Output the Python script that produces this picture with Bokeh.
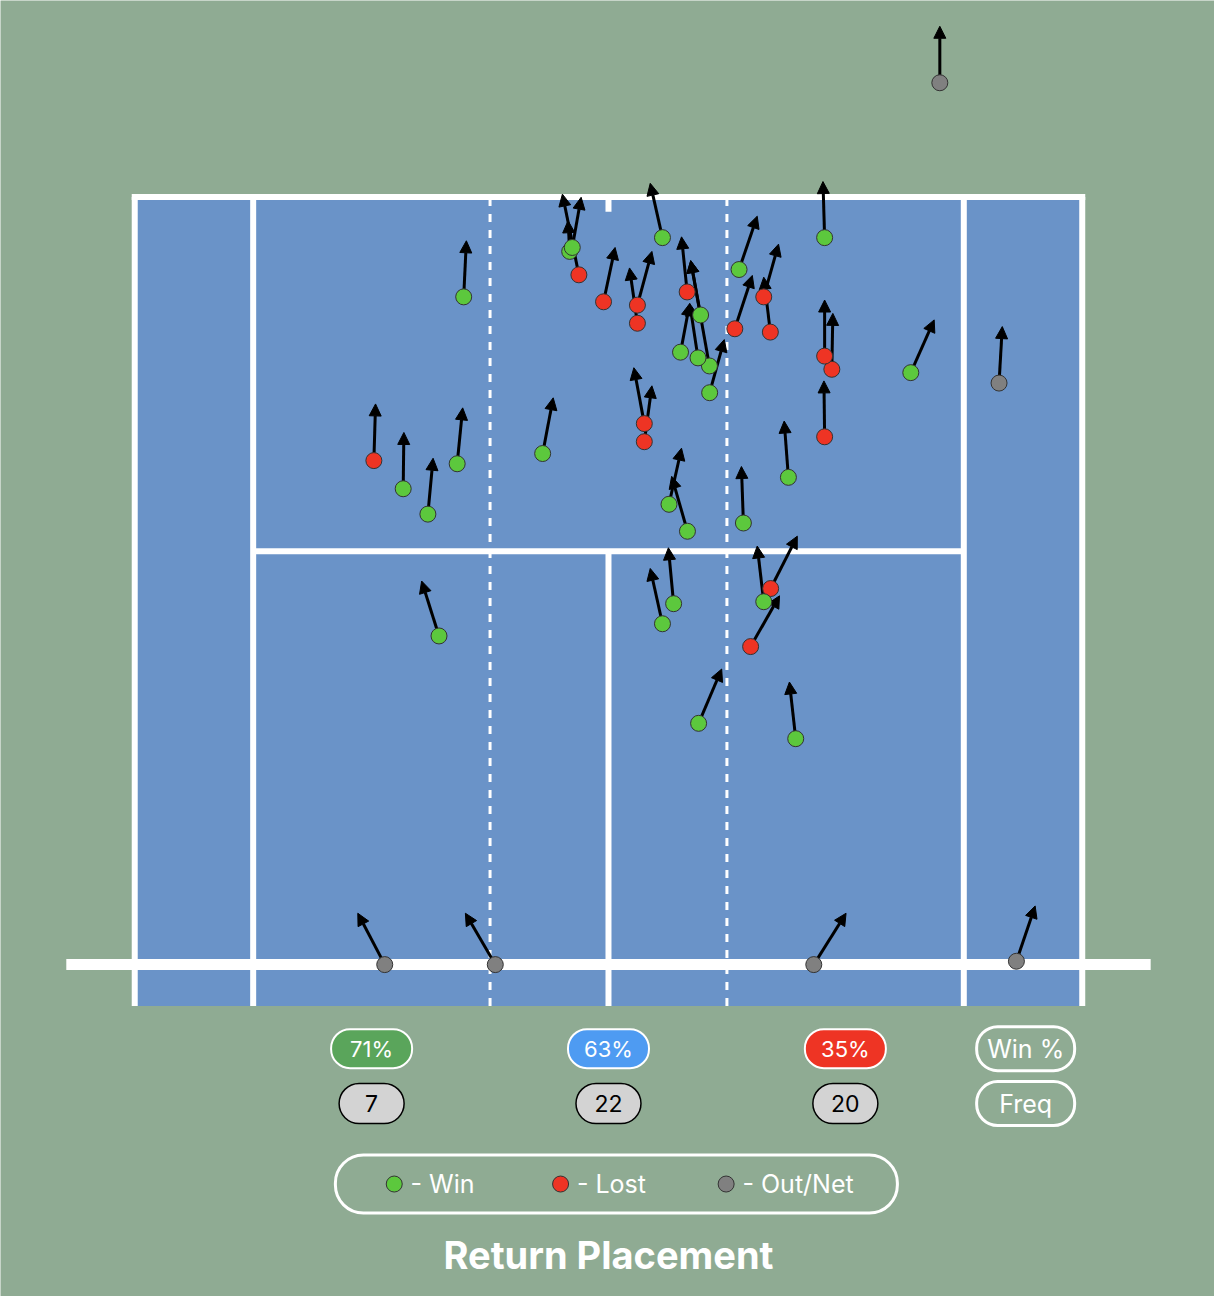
from bokeh.plotting import figure
from bokeh.models import Range1d, ColumnDataSource, Arrow, NormalHead
from bokeh.embed import file_html
from bokeh.resources import INLINE
from bokeh.core.properties import value

# ---------------- data (court feet: x across court, y = distance from net) ----
ball_x = [-1.125, -1.474, -1.376, -0.188, 1.099, 1.099, 2.051, 3.836, 2.737, 3.401,
          3.499, 2.989, 3.844, 4.961, 6.150, 5.899, 4.800, 8.212, 8.486, 8.212,
          8.212, 11.486, 14.839, 6.836, 12.589, -5.501, -8.914, -7.800, -6.862, -5.749,
          -2.501, -6.439, 1.361, 1.361, 2.299, 3.000, 5.126, 2.475, 2.051, 6.161,
          5.899, 5.400, 3.424, 7.114, -8.501, -4.301, 7.800, 15.499]
ball_y = [35.05, 36.24, 36.44, 33.68, 32.59, 33.51, 36.94, 30.42, 31.12, 30.83,
          33.01, 34.18, 29.06, 35.32, 32.14, 33.93, 32.31, 36.94, 30.25, 30.92,
          26.82, 30.08, 29.55, 24.76, 44.81, 33.93, 25.61, 24.18, 22.89, 25.45,
          25.97, 16.70, 27.49, 26.57, 23.39, 22.02, 22.44, 18.34, 17.32, 19.11,
          18.44, 16.16, 12.26, 11.48, 0.00, 0.00, 0.00, 0.17]
dir_x = [-1.751, -1.537, -1.039, 0.251, 0.799, 1.650, 1.586, 3.124, 3.086, 3.086,
         3.124, 2.775, 4.399, 5.651, 5.899, 6.461, 5.464, 8.149, 8.524, 8.212,
         8.186, 12.375, 14.962, 6.675, 12.589, -5.400, -8.850, -7.774, -6.664, -5.539,
         -2.100, -7.099, 0.964, 1.650, 2.775, 2.400, 5.051, 2.276, 1.586, 7.174,
         5.651, 6.499, 4.301, 6.874, -9.525, -5.437, 9.026, 16.211]
dir_y = [39.15, 37.80, 38.99, 36.44, 35.40, 36.24, 39.70, 35.77, 33.59, 33.59,
         35.77, 36.98, 31.76, 38.03, 34.93, 36.61, 35.02, 39.79, 33.09, 33.77,
         29.66, 32.76, 32.42, 27.62, 47.68, 36.78, 28.49, 27.04, 25.73, 28.29,
         28.80, 19.49, 30.33, 29.41, 26.24, 24.81, 25.31, 21.18, 20.13, 21.77,
         21.27, 18.74, 15.02, 14.36, 2.61, 2.61, 2.61, 2.98]
outcome = ["Lost", "Win", "Win", "Lost", "Lost", "Lost", "Win", "Win", "Win", "Win",
           "Win", "Lost", "Win", "Win", "Lost", "Lost", "Lost", "Win", "Lost", "Lost",
           "Lost", "Win", "Out/Net", "Win", "Out/Net", "Win", "Lost", "Win", "Win", "Win",
           "Win", "Win", "Lost", "Lost", "Win", "Win", "Win", "Win", "Win", "Lost",
           "Win", "Lost", "Win", "Win", "Out/Net", "Out/Net", "Out/Net", "Out/Net"]

zone_centers = [-9.0, 0.0, 9.0]
zone_win_pct = ["71%", "63%", "35%"]
zone_freq = ["7", "22", "20"]
legend_labels = ["Win", "Lost", "Out/Net"]

# ---------------- styles ----------------
BG = "#8FAB93"
COURT = "#6A93C8"
OUTCOME_COLORS = {"Win": "#5CC83D", "Lost": "#EE3424", "Out/Net": "#808080"}
PCT_FILLS = ["#5AA55B", "#4E9BF2", "#EE3424"]
FONT = "Inter"

# court geometry (feet)
DOUBLES = 18.0
SINGLES = 13.5
BASELINE = 39.0
SERVICE = 21.0
ZONE_LINE = 4.5
COURT_END = -2.1
NET_HALF = 20.6

p = figure(width=1214, height=1296,
           x_range=Range1d(-23.10, 23.025), y_range=Range1d(-16.865, 48.99),
           output_backend="svg", toolbar_location=None,
           x_axis_location=None, y_axis_location=None,
           background_fill_color=BG, border_fill_color=BG,
           outline_line_color=None, min_border=0)
p.grid.visible = False

# court surface
p.quad(left=[-DOUBLES], right=[DOUBLES], bottom=[COURT_END], top=[BASELINE],
       fill_color=COURT, line_color=None, level="image")

# solid lines
p.segment(x0=[-DOUBLES, -SINGLES, SINGLES, DOUBLES, 0],
          y0=[COURT_END] * 5,
          x1=[-DOUBLES, -SINGLES, SINGLES, DOUBLES, 0],
          y1=[BASELINE, BASELINE, BASELINE, BASELINE, SERVICE],
          line_color="white", line_width=6, level="image")
p.segment(x0=[-SINGLES], y0=[SERVICE], x1=[SINGLES], y1=[SERVICE],
          line_color="white", line_width=6, level="image")
p.segment(x0=[0], y0=[BASELINE], x1=[0], y1=[BASELINE - 0.75],
          line_color="white", line_width=6, level="image")
p.segment(x0=[-DOUBLES], y0=[BASELINE], x1=[DOUBLES], y1=[BASELINE],
          line_color="white", line_width=6, line_cap="square", level="image")
# zone dividers
p.segment(x0=[-ZONE_LINE, ZONE_LINE], y0=[COURT_END] * 2,
          x1=[-ZONE_LINE, ZONE_LINE], y1=[BASELINE] * 2,
          line_color="white", line_width=3, line_dash="8 8", level="image")
# net
p.segment(x0=[-NET_HALF], y0=[0], x1=[NET_HALF], y1=[0],
          line_color="white", line_width=11, level="image")

# arrows + balls
src = ColumnDataSource(dict(x=ball_x, y=ball_y, ex=dir_x, ey=dir_y, outcome=outcome,
                            color=[OUTCOME_COLORS[o] for o in outcome]))
arrows = Arrow(x_start="x", y_start="y", x_end="ex", y_end="ey", source=src,
               line_color="black", line_width=3, level="underlay",
               end=NormalHead(size=12, fill_color="black", line_color="black", line_width=1))
p.add_layout(arrows)
p.scatter(x="x", y="y", source=src, size=16, fill_color="color",
          line_color="#333333", line_width=1)

# zone badges
PCT_Y = -4.27
FREQ_Y = -7.06
badge = ColumnDataSource(dict(x=zone_centers, pct=zone_win_pct, freq=zone_freq,
                              fill=PCT_FILLS, py=[PCT_Y] * 3, fy=[FREQ_Y] * 3))
p.rect(x="x", y="py", source=badge, width=81, height=39, width_units="screen",
       height_units="screen", fill_color="fill", line_color="white", line_width=2,
       border_radius=19)
p.text(x="x", y="py", text="pct", source=badge, text_color="white",
       text_font=value(FONT), text_font_size="22px", text_align="center",
       text_baseline="middle")
p.rect(x="x", y="fy", source=badge, width=65, height=40, width_units="screen",
       height_units="screen", fill_color="#D3D3D3", line_color="black", line_width=1.5,
       border_radius=20)
p.text(x="x", y="fy", text="freq", source=badge, text_color="black",
       text_font=value(FONT), text_font_size="23px", text_align="center",
       text_baseline="middle")

# row labels
ALLEY_C = 15.85
p.rect(x=[ALLEY_C, ALLEY_C], y=[PCT_Y, FREQ_Y], width=98, height=44, width_units="screen",
       height_units="screen", fill_color=None, line_color="white", line_width=3,
       border_radius=21)
p.text(x=[ALLEY_C, ALLEY_C], y=[PCT_Y, FREQ_Y], text=["Win %", "Freq"], text_color="white",
       text_font=value(FONT), text_font_size="25px", text_align="center",
       text_baseline="middle")

# legend
LEG_Y = -11.15
p.rect(x=[0.3], y=[LEG_Y], width=562, height=58, width_units="screen",
       height_units="screen", fill_color=None, line_color="white", line_width=3,
       border_radius=28)
leg_x = [-8.14, -1.82, 4.47]
p.scatter(x=leg_x, y=[LEG_Y] * 3, size=16,
          fill_color=[OUTCOME_COLORS[k] for k in legend_labels],
          line_color="#333333", line_width=1)
p.text(x=[v + 0.62 for v in leg_x], y=[LEG_Y] * 3,
       text=["- " + k for k in legend_labels], text_color="white",
       text_font=value(FONT), text_font_size="25px", text_align="left",
       text_baseline="middle")

# title
p.text(x=[0], y=[-14.76], text=["Return Placement"], text_color="white",
       text_font=value(FONT), text_font_style="bold", text_font_size="38px",
       text_align="center", text_baseline="middle")

html = file_html(p, INLINE, title="Return Placement")
html = html.replace("<body>", '<body style="background-color:#8FAB93; margin:8px;">', 1)
open("out.html", "w").write(html)
